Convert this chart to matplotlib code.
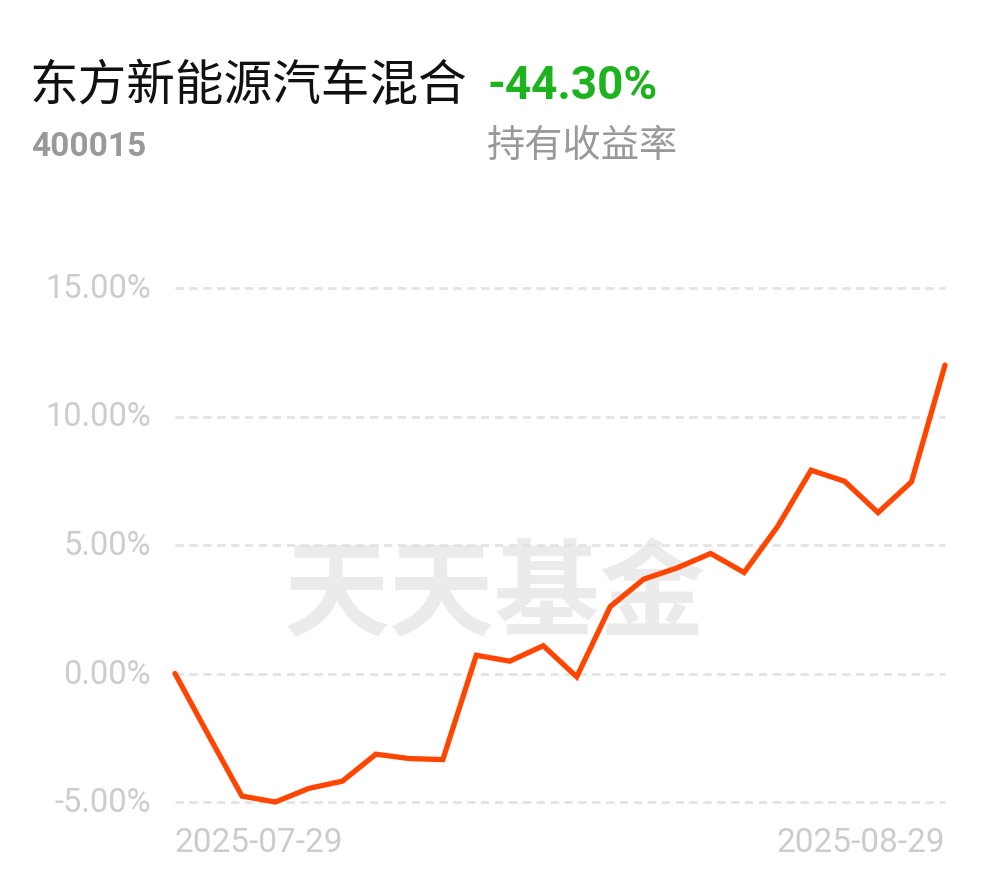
import matplotlib
matplotlib.use("Agg")
import matplotlib.pyplot as plt
from matplotlib import font_manager as fm

dates = ["2025-07-29", "2025-07-30", "2025-07-31", "2025-08-01", "2025-08-04", "2025-08-05",
         "2025-08-06", "2025-08-07", "2025-08-08", "2025-08-11", "2025-08-12", "2025-08-13",
         "2025-08-14", "2025-08-15", "2025-08-18", "2025-08-19", "2025-08-20", "2025-08-21",
         "2025-08-22", "2025-08-25", "2025-08-26", "2025-08-27", "2025-08-28", "2025-08-29"]
returns = [0.00, -2.40, -4.77, -5.00, -4.47, -4.19, -3.14, -3.31, -3.35, 0.71, 0.48, 1.08,
           -0.13, 2.60, 3.67, 4.11, 4.67, 3.93, 5.72, 7.91, 7.48, 6.26, 7.46, 12.00]
yticks = [-5, 0, 5, 10, 15]
ytick_labels = ["-5.00%", "0.00%", "5.00%", "10.00%", "15.00%"]
title = "东方新能源汽车混合"
code = "400015"
hold_return = "-44.30%"
hold_label = "持有收益率"
watermark = "天天基金"

avail = {f.name for f in fm.fontManager.ttflist}
narrow = "Liberation Sans Narrow" if "Liberation Sans Narrow" in avail else "Roboto"
cjk = ["Noto Sans CJK SC", "DejaVu Sans"]

W, H = 990, 878
fig = plt.figure(figsize=(W / 100, H / 100), dpi=100)
fig.patch.set_facecolor("white")

def fx(px):
    return px / W

def fy(py):
    return 1 - py / H

ax = fig.add_axes([fx(175), fy(803), fx(945) - fx(175), fy(289) - fy(803)])
ax.set_xlim(0, len(dates) - 1)
ax.set_ylim(-5, 15)
ax.patch.set_visible(False)
for s in ax.spines.values():
    s.set_visible(False)
ax.set_yticks([])
ax.set_xticks([])
for t in yticks:
    ax.axhline(t, color="#e3e3e3", lw=2, ls=(0, (3, 2)), zorder=1, clip_on=False)

# watermark (inside axes so the line is drawn on top)
ax.text(fx(495), fy(597), watermark, fontsize=76, fontweight="black", color="#ebebeb",
        ha="center", va="center", family=cjk, zorder=0, transform=fig.transFigure)

ax.plot(range(len(dates)), returns, color="#ff4500", lw=3.8, solid_joinstyle="miter",
        solid_capstyle="round", zorder=3, clip_on=False)

for t, lab in zip(yticks, ytick_labels):
    ax.text(-0.72, t, lab, ha="right", va="center", fontsize=23.5, color="#cccccc",
            family="Roboto")

ax.text(0, -5.95, dates[0], ha="left", va="top", fontsize=24, color="#cccccc", family=narrow)
ax.text(len(dates) - 1, -5.95, dates[-1], ha="right", va="top", fontsize=24,
        color="#cccccc", family=narrow)

fig.text(fx(30), fy(86), title, fontsize=35, color="#111111", ha="left", va="center", family=cjk)
fig.text(fx(487), fy(86), hold_return, fontsize=33, color="#1fb21f", ha="left", va="center",
         family=narrow, fontweight="bold")
fig.text(fx(31), fy(147), code, fontsize=24, color="#999999", ha="left", va="center",
         family=narrow, fontweight="bold")
fig.text(fx(487), fy(147), hold_label, fontsize=27.5, color="#999999", ha="left", va="center",
         family=cjk)

fig.savefig("out.png", dpi=100, facecolor="white")
